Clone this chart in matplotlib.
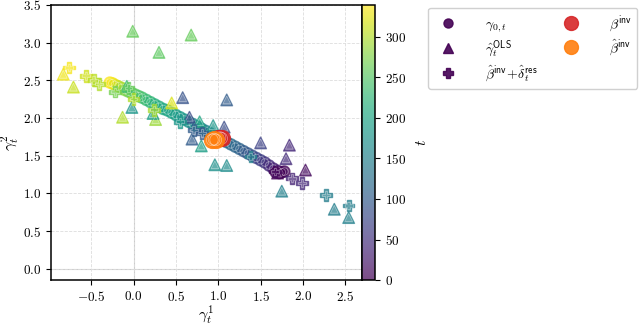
import numpy as np
import matplotlib
matplotlib.use("Agg")
import matplotlib.pyplot as plt
from matplotlib.lines import Line2D

plt.rcParams['mathtext.fontset'] = 'cm'
plt.rcParams['font.family'] = 'serif'
plt.rcParams['font.serif'] = ['cmr10', 'DejaVu Serif']
plt.rcParams['axes.formatter.use_mathtext'] = True

# gamma_{0,t}: (x, y, t)
circ_x = [-0.28, -0.25, -0.22, -0.18, -0.14, -0.10, -0.06, -0.02, 0.02, 0.06, 0.10, 0.15, 0.20, 0.25,
          0.30, 0.35, 0.40, 0.45, 0.50, 0.55, 0.60, 0.65, 0.70, 0.75, 0.80, 0.85, 0.90, 0.95, 1.00,
          1.05, 1.10, 1.15, 1.20, 1.25, 1.30, 1.35, 1.40, 1.45, 1.50, 1.55, 1.60, 1.65, 1.70, 1.75,
          1.78, 1.72, 1.68]
circ_y = [2.47, 2.46, 2.44, 2.42, 2.40, 2.37, 2.35, 2.33, 2.31, 2.29, 2.27, 2.24, 2.21, 2.18,
          2.15, 2.12, 2.10, 2.07, 2.04, 2.01, 1.98, 1.95, 1.92, 1.89, 1.86, 1.83, 1.80, 1.77, 1.74,
          1.71, 1.68, 1.65, 1.62, 1.59, 1.56, 1.53, 1.50, 1.47, 1.44, 1.41, 1.37, 1.33, 1.30, 1.28,
          1.29, 1.27, 1.28]
circ_t = [339, 335, 325, 310, 295, 280, 270, 262, 255, 248, 240, 232, 225, 218,
          212, 205, 200, 195, 190, 185, 178, 172, 165, 160, 155, 150, 145, 140, 135,
          130, 125, 120, 115, 110, 100, 95, 85, 75, 65, 55, 45, 35, 25, 10,
          5, 0, 2]

# gamma_hat OLS
tri_x = [-0.01, 0.68, 0.30, -0.71, -0.83, 0.45, 0.58, 1.10, -0.13, -0.02, -0.08, 0.26, 0.66, 0.78,
         0.69, 0.80, 0.94, 1.07, 0.96, 1.10, 1.50, 1.84, 1.80, 2.03, 1.75, 2.37, 2.54, 1.70, 0.23]
tri_y = [3.15, 3.10, 2.87, 2.41, 2.58, 2.20, 2.27, 2.24, 2.01, 2.14, 2.42, 1.98, 2.01, 1.95,
         1.72, 1.63, 1.90, 1.88, 1.38, 1.37, 1.67, 1.64, 1.46, 1.31, 1.03, 0.79, 0.68, 1.27, 2.06]
tri_t = [260, 260, 255, 310, 330, 320, 90, 100, 300, 180, 230, 290, 80, 200,
         100, 190, 180, 80, 170, 165, 70, 40, 45, 10, 150, 145, 150, 5, 190]

# beta_hat_inv + delta_hat_res
cross_x = [-0.76, -0.56, -0.47, -0.41, -0.22, 0.00, 0.24, 0.55, 0.71, 0.81, 1.87, 1.99, 2.27, 2.54,
           1.67, -0.06, 1.38]
cross_y = [2.67, 2.56, 2.50, 2.45, 2.35, 2.25, 2.11, 1.95, 1.84, 1.80, 1.20, 1.14, 0.98, 0.84,
           1.29, 2.40, 1.49]
cross_t = [335, 315, 305, 300, 270, 300, 295, 180, 100, 95, 35, 40, 145, 145,
           10, 260, 150]

# beta_inv (red) and beta_hat_inv (orange)
binv_x = [1.00, 1.02, 1.04]
binv_y = [1.73, 1.74, 1.73]
bhat_x = [0.93, 0.95, 0.97]
bhat_y = [1.71, 1.72, 1.71]

T_MAX = 339
cmap = plt.get_cmap('viridis')
ALPHA = 0.7

fig = plt.figure(figsize=(6.4, 3.25), dpi=100)
ax = fig.add_axes([0.079, 0.138, 0.487, 0.847])
cax = fig.add_axes([0.566, 0.138, 0.0205, 0.847])

ax.grid(True, ls='--', color='#dddddd', lw=0.6, zorder=0)
ax.axhline(0, color='#cccccc', lw=0.8, zorder=0)
ax.axvline(0, color='#cccccc', lw=0.8, zorder=0)


def styled_scatter(x, y, t, marker, s, z):
    sc = ax.scatter(x, y, c=t, cmap=cmap, vmin=0, vmax=T_MAX, marker=marker, s=s,
                    alpha=ALPHA, linewidths=1.0, zorder=z)
    cols = cmap(np.asarray(t) / T_MAX)
    sc.set_edgecolor(cols)
    ax.scatter(x, y, marker=marker, s=s * 0.45, facecolors='none', edgecolors='white',
               linewidths=0.5, alpha=0.45, zorder=z + 0.1)
    return sc


def solid_scatter(x, y, color, s, z):
    ax.scatter(x, y, color=color, s=s, alpha=0.85, linewidths=1.0, edgecolors=color, zorder=z)
    ax.scatter(x, y, s=s * 0.55, facecolors='none', edgecolors='white', linewidths=0.5,
               alpha=0.5, zorder=z + 0.1)


sc = styled_scatter(circ_x, circ_y, circ_t, 'o', 65, 3)
styled_scatter(tri_x, tri_y, tri_t, '^', 70, 4)
styled_scatter(cross_x, cross_y, cross_t, 'P', 70, 5)
solid_scatter(binv_x, binv_y, '#d62728', 130, 6)
solid_scatter(bhat_x, bhat_y, '#ff7f0e', 130, 7)

ax.set_xlim(-0.98, 2.70)
ax.set_ylim(-0.15, 3.5)
ax.set_xticks([-0.5, 0.0, 0.5, 1.0, 1.5, 2.0, 2.5])
ax.set_yticks([0.0, 0.5, 1.0, 1.5, 2.0, 2.5, 3.0, 3.5])
ax.set_xticklabels(['$-0.5$', '$0.0$', '$0.5$', '$1.0$', '$1.5$', '$2.0$', '$2.5$'])
ax.set_yticklabels(['$0.0$', '$0.5$', '$1.0$', '$1.5$', '$2.0$', '$2.5$', '$3.0$', '$3.5$'])
ax.tick_params(labelsize=9.5)
for sp in ax.spines.values():
    sp.set_linewidth(1.1)
ax.set_xlabel(r'$\gamma_t^1$', fontsize=11.5, labelpad=0)
ax.set_ylabel(r'$\gamma_t^2$', fontsize=11.5, labelpad=1)

cb = fig.colorbar(sc, cax=cax)
cb.set_ticks([0, 50, 100, 150, 200, 250, 300])
cb.set_ticklabels(['$0$', '$50$', '$100$', '$150$', '$200$', '$250$', '$300$'])
cb.ax.tick_params(labelsize=9.5)
cb.outline.set_linewidth(1.1)
cb.set_label(r'$t$', fontsize=11, labelpad=6)

dark = cmap(0.0)
handles = [
    Line2D([], [], ls='none', marker='o', ms=6.5, color=dark, alpha=0.9, mec=dark),
    Line2D([], [], ls='none', marker='^', ms=6.5, color=dark, alpha=0.9, mec=dark),
    Line2D([], [], ls='none', marker='P', ms=6.5, color=dark, alpha=0.9, mec=dark),
    Line2D([], [], ls='none', marker='o', ms=10, color='#d62728', alpha=0.9, mec='#d62728'),
    Line2D([], [], ls='none', marker='o', ms=10, color='#ff7f0e', alpha=0.9, mec='#ff7f0e'),
]
labels = [r'$\gamma_{0,t}$', r'$\hat{\gamma}_t^{\mathsf{OLS}}$',
          r'$\hat{\beta}^{\mathsf{inv}}\!+\!\hat{\delta}_t^{\mathsf{res}}$',
          r'$\beta^{\mathsf{inv}}$', r'$\hat{\beta}^{\mathsf{inv}}$']
fig.legend(handles, labels, ncol=2, loc='upper left', bbox_to_anchor=(0.665, 0.985),
           fontsize=10, handletextpad=1.7, columnspacing=1.4, labelspacing=0.3,
           borderaxespad=0.2, framealpha=1.0, edgecolor='#d0d0d0')

fig.savefig('out.png', dpi=100)
